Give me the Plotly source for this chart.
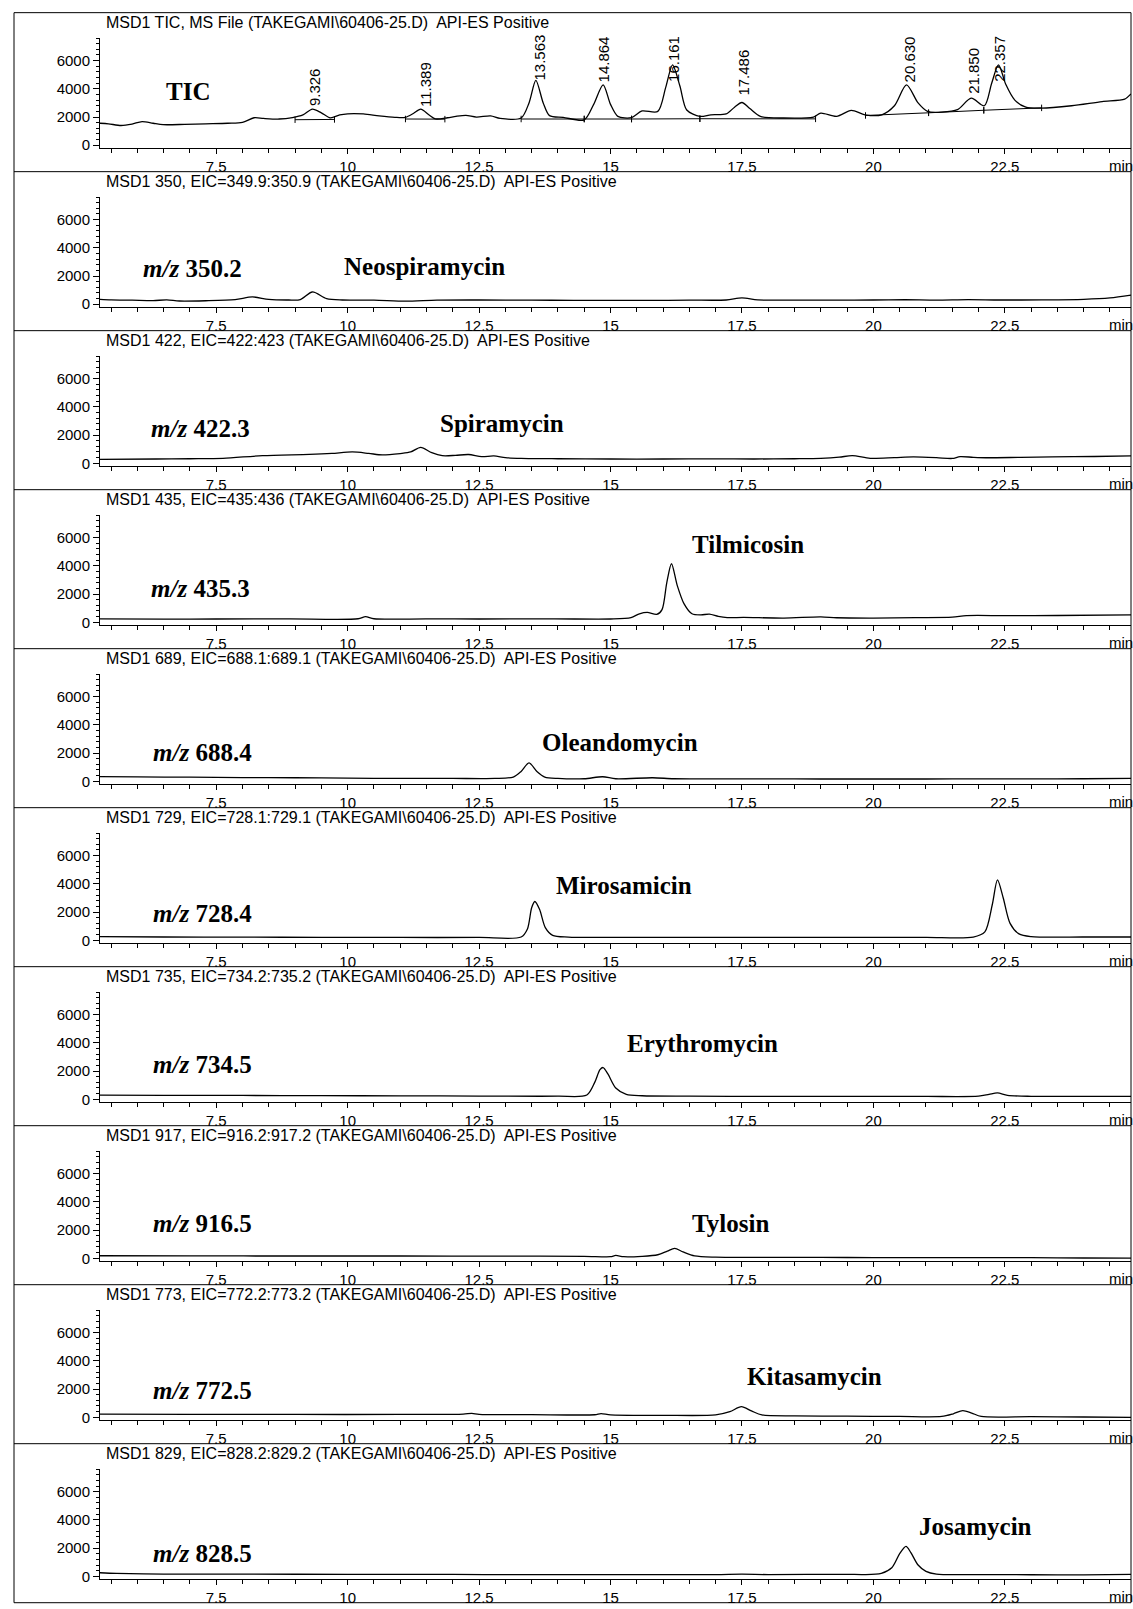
import plotly.graph_objects as go

W, H = 1133, 1609
X_RANGE = [5.29, 24.9]
Y_RANGE = [-212, 7633]

# ---------------- data (time in min, abundance) ----------------
tic_t = [5.29, 5.45, 5.69, 5.9, 6.09, 6.3, 6.49, 6.9, 7.3, 7.72, 8.0, 8.22, 8.4, 8.7, 8.95, 9.15, 9.33, 9.5, 9.67,
         9.85, 10.0, 10.3, 10.6, 10.9, 11.1, 11.25, 11.39, 11.55, 11.67, 11.9, 12.06, 12.25, 12.45, 12.72, 12.9,
         13.3, 13.45, 13.58, 13.72, 13.84, 14.1, 14.5, 14.68, 14.86, 15.0, 15.14, 15.4, 15.6, 15.9, 16.05, 16.18,
         16.32, 16.45, 16.7, 16.91, 17.2, 17.36, 17.5, 17.65, 17.85, 18.29, 18.86, 19.0, 19.3, 19.58, 19.84,
         20.16, 20.4, 20.63, 20.85, 21.03, 21.3, 21.6, 21.86, 22.11, 22.25, 22.38, 22.52, 22.69, 22.9, 23.19,
         23.77, 24.35, 24.78, 24.9]
tic_i = [1560, 1520, 1400, 1500, 1680, 1560, 1460, 1480, 1520, 1560, 1620, 1950, 1900, 1860, 1960, 2150, 2560, 2300, 1940,
         2150, 2230, 2220, 2080, 1980, 1980, 2250, 2560, 2150, 1870, 1950, 2050, 2120, 2000, 2080, 1900,
         1930, 3000, 4600, 3000, 2100, 1980, 1800, 2900, 4280, 2900, 2050, 1960, 2430, 2400, 4100, 5700,
         4200, 2500, 2050, 2160, 2220, 2700, 3030, 2600, 2050, 1930, 2000, 2280, 2050, 2470, 2160,
         2160, 2800, 4280, 3000, 2400, 2350, 2520, 3340, 2800, 4400, 5700, 4300, 3200, 2700, 2630,
         2800, 3100, 3270, 3640]

# integration baselines of the TIC (segments) and their marks
tic_base_x0 = [9.0, 11.1, 13.3, 14.5, 15.4, 16.7, 19.85, 21.05, 22.1]
tic_base_y0 = [1810, 1860, 1860, 1860, 1860, 1880, 2110, 2300, 2480]
tic_base_x1 = [9.75, 11.85, 14.5, 15.4, 16.7, 18.9, 21.05, 22.1, 23.2]
tic_base_y1 = [1830, 1850, 1860, 1860, 1880, 1870, 2300, 2480, 2650]

tic_rt_labels = ["9.326", "11.389", "13.563", "14.864", "16.161", "17.486", "20.630", "21.850", "22.357"]
tic_rt_x = [9.37, 11.47, 13.64, 14.86, 16.2, 17.54, 20.68, 21.9, 22.4]
tic_rt_y = [2600, 2600, 4450, 4320, 4320, 3380, 4320, 3520, 4320]

eic350_t = [5.29, 5.5, 5.9, 6.3, 6.56, 6.8, 7.3, 7.86, 8.19, 8.5, 8.88, 9.1, 9.33, 9.6, 9.9, 10.5, 11.1, 11.7, 12.5,
            13.5, 14.3, 15.0, 15.7, 16.5, 17.2, 17.5, 17.8, 18.5, 19.3, 20.0, 20.6, 21.2, 21.8, 22.4, 23.2, 24.0,
            24.5, 24.9]
eic350_i = [350, 310, 290, 260, 310, 230, 250, 330, 520, 340, 300, 330, 870, 400, 300, 290, 220, 290, 300,
            290, 280, 280, 270, 290, 300, 450, 310, 290, 290, 300, 320, 290, 330, 300, 310, 350,
            450, 650]

eic422_t = [5.29, 6.36, 7.0, 7.63, 8.38, 9.27, 9.7, 10.09, 10.4, 10.66, 11.0, 11.2, 11.39, 11.6, 11.8, 12.05, 12.3,
            12.55, 12.78, 13.0, 13.3, 14.0, 15.0, 16.0, 17.0, 17.73, 18.5, 19.0, 19.35, 19.6, 19.94, 20.4, 20.76,
            21.2, 21.5, 21.65, 21.9, 22.14, 22.8, 23.4, 24.2, 24.9]
eic422_i = [280, 300, 320, 350, 540, 630, 700, 800, 700, 590, 690, 800, 1130, 750, 540, 560, 620,
            470, 520, 400, 350, 320, 300, 300, 310, 300, 320, 350, 430, 540, 350, 400, 450,
            400, 340, 470, 420, 390, 420, 450, 480, 520]

eic435_t = [5.29, 6.5, 7.5, 8.89, 10.2, 10.34, 10.5, 11.5, 12.5, 13.94, 15.0, 15.39, 15.55, 15.7, 15.88, 15.98,
            16.07, 16.16, 16.27, 16.4, 16.55, 16.72, 16.88, 17.05, 17.22, 17.53, 18.3, 19.0, 19.3, 20.0, 20.8,
            21.5, 21.77, 22.5, 23.5, 24.9]
eic435_i = [240, 220, 230, 240, 250, 400, 250, 240, 230, 240, 230, 330, 600, 700, 560, 900,
            2800, 4150, 2600, 1300, 600, 520, 580, 420, 330, 340, 300, 380, 320, 300, 330,
            360, 470, 470, 480, 520]

eic689_t = [5.29, 6.0, 7.0, 8.0, 9.0, 10.0, 11.0, 12.0, 12.8, 13.15, 13.3, 13.45, 13.6, 13.75, 14.0, 14.5, 14.85,
            15.1, 15.8, 16.2, 17.0, 18.0, 19.0, 20.0, 21.0, 22.0, 23.0, 24.0, 24.9]
eic689_i = [330, 310, 290, 260, 250, 220, 200, 200, 200, 300, 700, 1300, 700, 300, 200, 180, 320,
            180, 250, 180, 170, 170, 160, 160, 160, 170, 170, 180, 200]

eic729_t = [5.29, 6.5, 8.0, 9.5, 11.0, 12.5, 13.3, 13.42, 13.5, 13.56, 13.65, 13.76, 13.9, 14.2, 15.0, 16.5, 18.0,
            19.5, 21.0, 21.9, 22.12, 22.26, 22.36, 22.47, 22.6, 22.77, 23.0, 24.0, 24.9]
eic729_i = [260, 230, 220, 210, 200, 200, 230, 800, 2300, 2750, 2200, 900, 350, 230, 210, 200, 200,
            200, 210, 230, 600, 2500, 4280, 3000, 1200, 450, 260, 230, 230]

eic735_t = [5.29, 6.5, 8.0, 9.5, 11.0, 12.5, 14.0, 14.55, 14.7, 14.8, 14.86, 14.95, 15.1, 15.3, 15.6, 16.5, 18.0,
            19.5, 21.0, 22.0, 22.2, 22.36, 22.55, 23.0, 24.0, 24.9]
eic735_i = [300, 280, 270, 260, 240, 230, 220, 300, 1200, 2100, 2250, 1800, 800, 350, 250, 220, 200,
            200, 200, 220, 350, 450, 280, 210, 200, 200]

eic917_t = [5.29, 7.0, 9.0, 11.0, 13.0, 14.5, 15.0, 15.1, 15.25, 15.6, 15.9, 16.08, 16.22, 16.38, 16.6, 17.0, 18.0,
            19.0, 20.0, 21.0, 22.0, 23.0, 24.0, 24.9]
eic917_i = [180, 170, 160, 160, 150, 140, 110, 200, 110, 140, 250, 500, 700, 450, 170, 80, 60,
            60, 50, 40, 40, 40, 20, 10]

eic773_t = [5.29, 7.0, 9.0, 11.0, 12.2, 12.36, 12.5, 13.5, 14.7, 14.82, 15.0, 16.0, 17.0, 17.27, 17.49, 17.68,
            17.88, 18.5, 19.5, 20.5, 21.3, 21.52, 21.7, 21.87, 22.05, 23.0, 24.0, 24.9]
eic773_i = [220, 200, 200, 200, 220, 280, 210, 190, 180, 260, 170, 140, 170, 400, 750, 450,
            170, 100, 80, 60, 60, 250, 470, 300, 60, 40, 20, 0]

eic829_t = [5.29, 5.6, 6.5, 8.0, 10.0, 12.0, 12.6, 14.0, 15.5, 17.0, 17.5, 18.0, 19.5, 19.8, 20.15, 20.35, 20.5,
            20.62, 20.71, 20.85, 21.0, 21.2, 22.0, 23.0, 24.0, 24.9]
eic829_i = [250, 200, 160, 150, 140, 140, 120, 120, 120, 120, 150, 120, 140, 120, 200, 600, 1600,
            2120, 1700, 800, 350, 150, 120, 110, 100, 130]

panel_titles = [
    "MSD1 TIC, MS File (TAKEGAMI\\60406-25.D)\u00a0 API-ES Positive",
    "MSD1 350, EIC=349.9:350.9 (TAKEGAMI\\60406-25.D)\u00a0 API-ES Positive",
    "MSD1 422, EIC=422:423 (TAKEGAMI\\60406-25.D)\u00a0 API-ES Positive",
    "MSD1 435, EIC=435:436 (TAKEGAMI\\60406-25.D)\u00a0 API-ES Positive",
    "MSD1 689, EIC=688.1:689.1 (TAKEGAMI\\60406-25.D)\u00a0 API-ES Positive",
    "MSD1 729, EIC=728.1:729.1 (TAKEGAMI\\60406-25.D)\u00a0 API-ES Positive",
    "MSD1 735, EIC=734.2:735.2 (TAKEGAMI\\60406-25.D)\u00a0 API-ES Positive",
    "MSD1 917, EIC=916.2:917.2 (TAKEGAMI\\60406-25.D)\u00a0 API-ES Positive",
    "MSD1 773, EIC=772.2:773.2 (TAKEGAMI\\60406-25.D)\u00a0 API-ES Positive",
    "MSD1 829, EIC=828.2:829.2 (TAKEGAMI\\60406-25.D)\u00a0 API-ES Positive",
]
ion_labels = ["TIC", "350.2", "422.3", "435.3", "688.4", "728.4", "734.5", "916.5", "772.5", "828.5"]
ion_label_x = [6.96, 7.04, 7.21, 7.21, 7.23, 7.23, 7.23, 7.23, 7.23, 7.23]
ion_label_y = [3795, 2545, 2496, 2375, 2043, 1923, 2439, 2460, 1916, 1584]
compound_names = [None, "Neospiramycin", "Spiramycin", "Tilmicosin", "Oleandomycin", "Mirosamicin",
                  "Erythromycin", "Tylosin", "Kitasamycin", "Josamycin"]
compound_x = [None, 11.47, 12.93, 17.61, 15.18, 15.25, 16.75, 17.29, 18.88, 21.94]
compound_y = [None, 2686, 2850, 5486, 2750, 3903, 3924, 2460, 2906, 3563]

series_t = [tic_t, eic350_t, eic422_t, eic435_t, eic689_t, eic729_t, eic735_t, eic917_t, eic773_t, eic829_t]
series_i = [tic_i, eic350_i, eic422_i, eic435_i, eic689_i, eic729_i, eic735_i, eic917_i, eic773_i, eic829_i]

# ---------------- layout geometry (pixels) ----------------
PANEL_TOP0 = 12.7
PANEL_H = 159.5
FRAME_L, FRAME_R = 14, 1131
AX_L, AX_R = 100, 1131
SANS = "Liberation Sans, Arial, sans-serif"
SERIF = "Liberation Serif, Times New Roman, serif"


def py(px):
    return 1 - px / H


def pxx(px):
    return px / W


fig = go.Figure()
annotations = []
shapes = []
layout = dict(width=W, height=H, autosize=False, margin=dict(l=0, r=0, t=0, b=0),
              paper_bgcolor="white", plot_bgcolor="white", showlegend=False)

for k in range(10):
    n = k + 1
    T = PANEL_TOP0 + PANEL_H * k
    xa = "xaxis" if n == 1 else f"xaxis{n}"
    ya = "yaxis" if n == 1 else f"yaxis{n}"
    xr = "x" if n == 1 else f"x{n}"
    yr = "y" if n == 1 else f"y{n}"

    fig.add_trace(go.Scatter(x=series_t[k], y=series_i[k], mode="lines", xaxis=xr, yaxis=yr,
                             line=dict(color="black", width=1.3, shape="spline", smoothing=0.8),
                             hoverinfo="skip"))

    layout[xa] = dict(domain=[pxx(AX_L), pxx(AX_R)], range=X_RANGE, anchor=yr,
                      showline=True, linecolor="black", linewidth=1, mirror=False,
                      showgrid=False, zeroline=False, ticks="outside", ticklen=5, tickwidth=1,
                      tickcolor="black", tick0=0, dtick=2.5, ticklabelstandoff=0,
                      tickfont=dict(family=SANS, size=15, color="black"),
                      minor=dict(dtick=0.5, tick0=0, ticks="outside", ticklen=4, tickcolor="black", tickwidth=1,
                                 showgrid=False))
    layout[ya] = dict(domain=[py(T + 136), py(T + 25)], range=Y_RANGE, anchor=xr,
                      showline=True, linecolor="black", linewidth=1,
                      showgrid=False, zeroline=False, ticks="outside", ticklen=6, tickwidth=1,
                      tickcolor="black", tick0=0, dtick=2000, tickformat="d",
                      tickfont=dict(family=SANS, size=15, color="black"),
                      minor=dict(dtick=400, tick0=0, ticks="outside", ticklen=3, tickcolor="black", tickwidth=1,
                                 showgrid=False))

    # panel title
    annotations.append(dict(text=panel_titles[k], xref="paper", yref="paper", x=pxx(104), y=py(T + 10),
                            xanchor="left", yanchor="middle", showarrow=False,
                            font=dict(family=SANS, size=16, color="black")))
    # "min" unit label
    annotations.append(dict(text="min", xref="paper", yref="paper", x=pxx(1135), y=py(T + 153),
                            xanchor="right", yanchor="middle", showarrow=False,
                            font=dict(family=SANS, size=15, color="black")))
    # ion label
    if k == 0:
        txt = "<b>TIC</b>"
    else:
        txt = f"<b><i>m/z</i> {ion_labels[k]}</b>"
    annotations.append(dict(text=txt, xref=xr, yref=yr, x=ion_label_x[k], y=ion_label_y[k],
                            xanchor="center", yanchor="middle", showarrow=False,
                            font=dict(family=SERIF, size=25, color="black")))
    if compound_names[k]:
        annotations.append(dict(text=f"<b>{compound_names[k]}</b>", xref=xr, yref=yr,
                                x=compound_x[k], y=compound_y[k], xanchor="center", yanchor="middle",
                                showarrow=False, font=dict(family=SERIF, size=25, color="black")))

    # panel divider
    if k > 0:
        shapes.append(dict(type="line", xref="paper", yref="paper", x0=pxx(FRAME_L), x1=pxx(FRAME_R),
                           y0=py(T), y1=py(T), line=dict(color="black", width=1)))

# TIC integration baselines and marks
bx, by, mx, my = [], [], [], []
for x0, y0, x1, y1 in zip(tic_base_x0, tic_base_y0, tic_base_x1, tic_base_y1):
    bx += [x0, x1, None]
    by += [y0, y1, None]
    for xm, ym in ((x0, y0), (x1, y1)):
        mx += [xm, xm, None]
        my += [ym - 230, ym + 230, None]
fig.add_trace(go.Scatter(x=bx, y=by, mode="lines", xaxis="x", yaxis="y",
                         line=dict(color="black", width=1), hoverinfo="skip"))
fig.add_trace(go.Scatter(x=mx, y=my, mode="lines", xaxis="x", yaxis="y",
                         line=dict(color="black", width=1), hoverinfo="skip"))

# retention time labels on the TIC
for lab, x, y in zip(tic_rt_labels, tic_rt_x, tic_rt_y):
    annotations.append(dict(text=lab, xref="x", yref="y", x=x, y=y, textangle=-90,
                            xanchor="center", yanchor="bottom", showarrow=False,
                            font=dict(family=SANS, size=15, color="black")))

# outer frame
shapes.append(dict(type="rect", xref="paper", yref="paper", x0=pxx(FRAME_L), x1=pxx(FRAME_R),
                   y0=py(PANEL_TOP0 + PANEL_H * 10), y1=py(PANEL_TOP0), line=dict(color="black", width=1)))

layout["annotations"] = annotations
layout["shapes"] = shapes
fig.update_layout(**layout)
fig.write_html("out.html")
